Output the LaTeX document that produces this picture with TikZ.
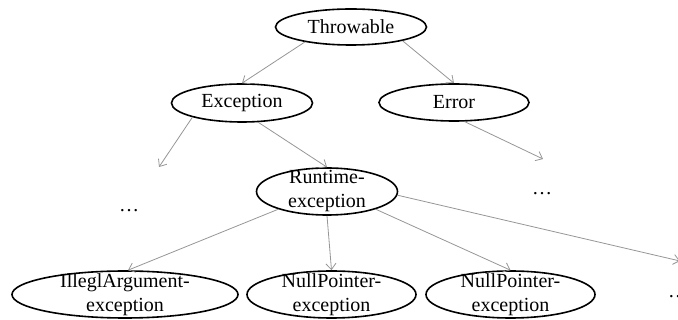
\documentclass[tikz,border=0pt]{standalone}
\usepackage{fontspec}
\setmainfont{Liberation Serif}
\usetikzlibrary{arrows.meta,shapes.geometric}
\definecolor{linegray}{RGB}{150,150,150}
\tikzset{
  ell/.style={draw=black, line width=1.6pt, ellipse, inner sep=0pt},
  lbl/.style={font=\fontsize{20}{24}\selectfont, align=center, inner sep=0pt},
  every label/.style={lbl},
  dots/.style={font=\fontsize{20}{24}\selectfont, inner sep=0pt, anchor=base},
  conn/.style={draw=linegray, line width=0.8pt, -{Straight Barb[length=6pt,width=10pt]}}
}
\begin{document}
\begin{tikzpicture}[x=1pt,y=-1pt]
\useasboundingbox (0,0) rectangle (678,320);
\node[ell, minimum width=151pt, minimum height=36pt, label=center:Throwable] (thr) at (351,27) {};
\node[ell, minimum width=141pt, minimum height=38pt, label=center:Exception] (exc) at (242,103) {};
\node[ell, minimum width=150pt, minimum height=37pt, label=center:Error] (err) at (454,102.5) {};
\node[ell, minimum width=141pt, minimum height=47pt, label={center:Runtime-\\exception}] (rt) at (327,191.5) {};
\node[ell, minimum width=226pt, minimum height=47pt, label={center:IlleglArgument-\\exception}] (ill) at (125,294.5) {};
\node[ell, minimum width=169pt, minimum height=47pt, label={center:NullPointer-\\exception}] (np1) at (331.5,294.5) {};
\node[ell, minimum width=169pt, minimum height=47pt, label={center:NullPointer-\\exception}] (np2) at (510.5,294.5) {};
\node[dots] (d1) at (129,212) {\ldots};
\node[dots] (d2) at (542,195) {\ldots};
\node[dots] (d3) at (678,298) {\ldots};
\coordinate (e1) at (159,167);
\coordinate (e2) at (543,159);
\coordinate (e3) at (680,261);
\draw[conn] (thr.198) -- (exc.north);
\draw[conn] (thr.-15) -- (err.north);
\draw[conn] (exc.196) -- (e1);
\draw[conn] (exc.-50) -- (rt.north);
\draw[conn] (err.-61) -- (e2);
\draw[conn] (rt.200) -- ([xshift=3pt]ill.north);
\draw[conn] (rt.south) -- (np1.north);
\draw[conn] (rt.-20) -- (np2.north);
\draw[conn] (rt.-3) -- (e3);
\end{tikzpicture}
\end{document}
